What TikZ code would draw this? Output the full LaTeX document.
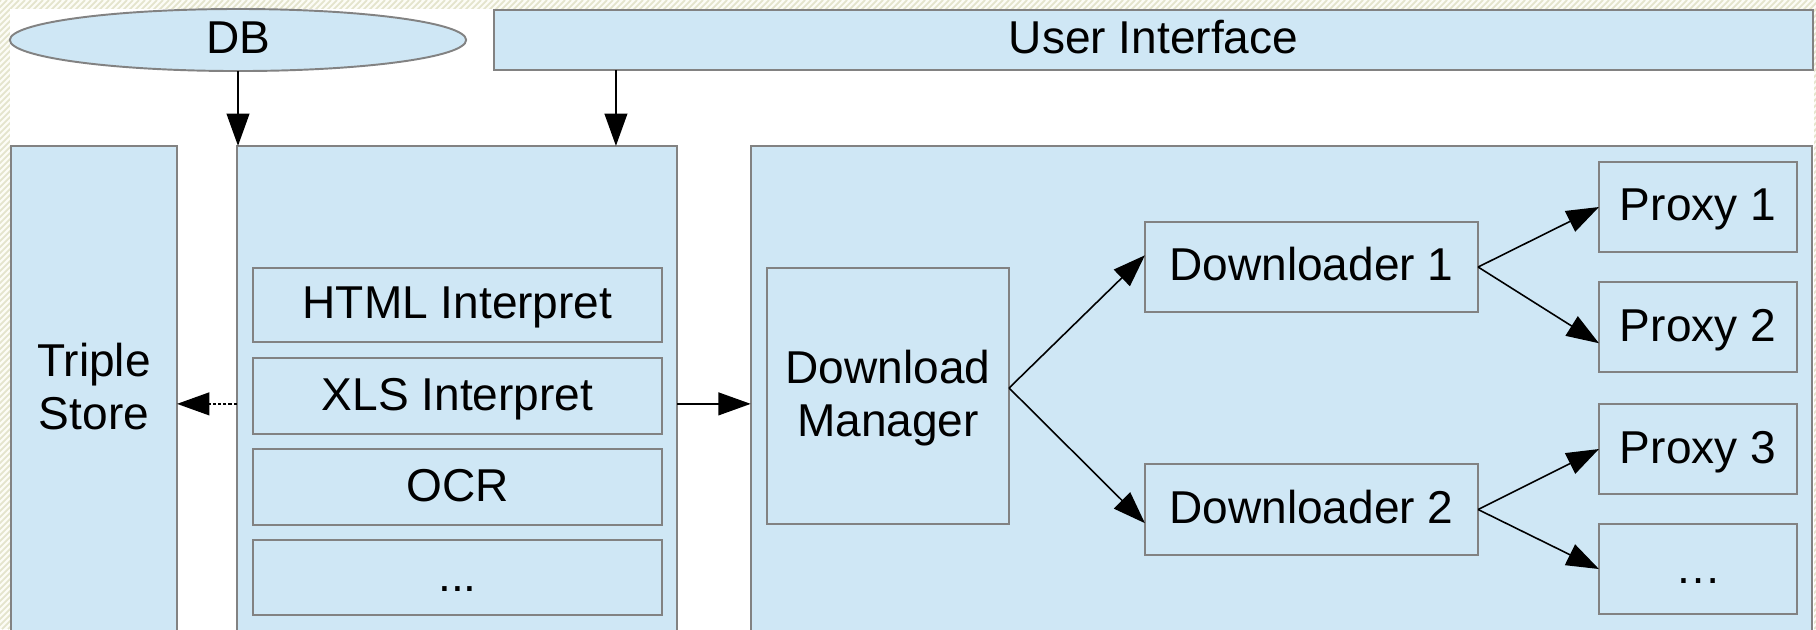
\documentclass[tikz,border=0pt]{standalone}
\usepackage{fontspec}
\setmainfont{Liberation Sans}
\usetikzlibrary{arrows.meta,calc,shapes.geometric}
\definecolor{boxfill}{RGB}{207,231,245}
\definecolor{boxline}{RGB}{130,130,130}
\definecolor{hatchc}{RGB}{228,228,205}
\definecolor{paper}{RGB}{252,252,246}
\begin{document}
\begin{tikzpicture}[x=0.01cm,y=-0.01cm,
  box/.style={draw=boxline,fill=boxfill,line width=0.55pt,inner sep=0pt,outer sep=0pt,
     font=\fontsize{13.1}{15.1}\selectfont, text height=9.4pt, text depth=1.45pt},
  twoline/.style={align=center, text height=24.5pt, text depth=1.45pt},
  arr/.style={draw=black,line width=0.45pt,-{Triangle[length=9.2pt,width=6.5pt]}},
  dasharr/.style={arr,dash pattern=on 0.9pt off 0.6pt},
]
\useasboundingbox (0,0) rectangle (1816,629);
\fill[paper] (0,0) rectangle (1816,629);
\begin{scope}
\clip (0,0) rectangle (1816,629);
\foreach \k in {-640,-634,...,1816} \draw[hatchc,line width=0.5pt] (\k,629) -- ++(629,-629);
\fill[white] (10,9) rectangle (1814,640);
\end{scope}

\begin{scope}
\clip (0,0) rectangle (1816,629);
\node[box,ellipse,minimum width=45.6mm,minimum height=6.2mm] (db) at (238,40) {DB};
\node[box,minimum width=131.9mm,minimum height=6.0mm] (ui) at (1153.5,40) {User Interface};
\node[box,twoline,minimum width=16.6mm,minimum height=48.6mm] (ts) at (94,389) {Triple\\Store};
\node[box,minimum width=44.0mm,minimum height=48.6mm] (ip) at (457,389) {};
\node[box,minimum width=40.9mm,minimum height=7.4mm] (html) at (457.5,305) {HTML Interpret};
\node[box,minimum width=40.9mm,minimum height=7.6mm] (xls) at (457.5,396) {XLS Interpret};
\node[box,minimum width=40.9mm,minimum height=7.6mm] (ocr) at (457.5,487) {OCR};
\node[box,minimum width=40.9mm,minimum height=7.5mm] (more) at (457.5,577.5) {...};
\node[box,minimum width=106.1mm,minimum height=48.6mm] (dlc) at (1281.5,389) {};
\node[box,twoline,minimum width=24.2mm,minimum height=25.6mm] (dm) at (888,396) {Download\\Manager};
\node[box,minimum width=33.3mm,minimum height=9.0mm] (dl1) at (1311.5,267) {Downloader 1};
\node[box,minimum width=33.3mm,minimum height=9.1mm] (dl2) at (1311.5,509.5) {Downloader 2};
\node[box,minimum width=19.8mm,minimum height=9.0mm] (p1) at (1698,207) {Proxy 1};
\node[box,minimum width=19.8mm,minimum height=9.0mm] (p2) at (1698,327) {Proxy 2};
\node[box,minimum width=19.8mm,minimum height=9.0mm] (p3) at (1698,449) {Proxy 3};
\node[box,minimum width=19.8mm,minimum height=9.0mm] (p4) at (1698,569) {…};
\end{scope}

\draw[arr] (db.south) -- (db.south |- ip.north);
\coordinate (uiarr) at ($(ip.north west)!0.861!(ip.north east)$);
\draw[arr] (uiarr |- ui.south) -- (uiarr);
\coordinate (lev) at ($(ip.north west)+(0,258)$);
\draw[dasharr] (lev) -- (lev -| ts.east);
\draw[arr] (lev -| ip.east) -- (lev -| dlc.west);
\coordinate (dmout) at ($(dm.east)+(0,-8)$);
\draw[arr] (dmout) -- ($(dl1.north west)!0.37!(dl1.south west)$);
\draw[arr] (dmout) -- ($(dl2.north west)!0.65!(dl2.south west)$);
\draw[arr] (dl1.east) -- (p1.west);
\draw[arr] (dl1.east) -- ($(p2.north west)!0.68!(p2.south west)$);
\draw[arr] (dl2.east) -- (p3.west);
\draw[arr] (dl2.east) -- (p4.west);
\end{tikzpicture}
\end{document}
